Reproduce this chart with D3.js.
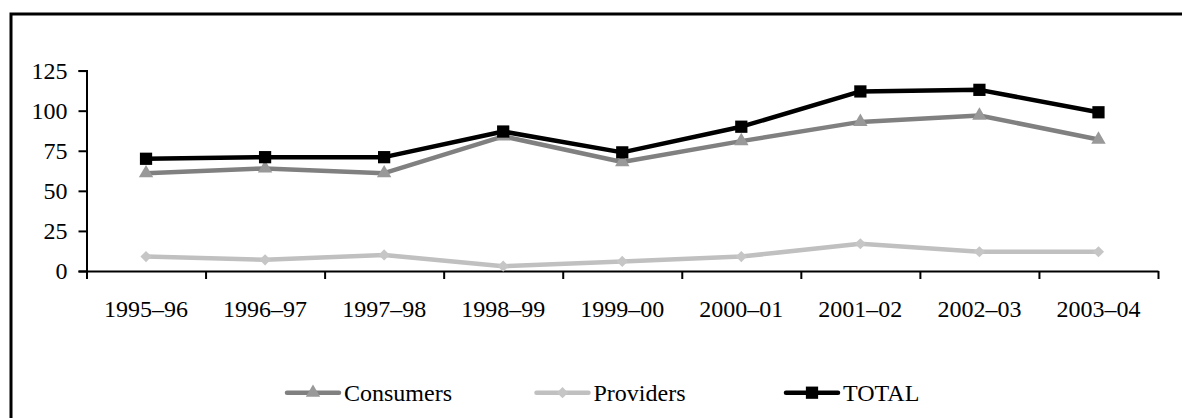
<!DOCTYPE html>
<html>
<head>
<meta charset="utf-8">
<script src="https://cdn.jsdelivr.net/npm/d3@7"></script>
<style>
  body { margin: 0; background: #fff; }
  text { font-family: "Liberation Serif", "DejaVu Serif", serif; font-size: 24px; fill: #000; }
</style>
</head>
<body>
<script>
// chart data
var years = ["1995–96", "1996–97", "1997–98", "1998–99", "1999–00",
             "2000–01", "2001–02", "2002–03", "2003–04"];
var consumers = [61, 64, 61, 84, 68, 81, 93, 97, 82];
var providers = [9, 7, 10, 3, 6, 9, 17, 12, 12];
var total = [70, 71, 71, 87, 74, 90, 112, 113, 99];
var yTicks = [0, 25, 50, 75, 100, 125];

draw();

function draw() {
  var width = 1182, height = 418;

  var svg = d3.select("body").append("svg")
      .attr("width", width)
      .attr("height", height);

  // frame (only top and left edges show in the picture)
  svg.append("path")
      .attr("d", "M11,418V14H1182")
      .attr("fill", "none")
      .attr("stroke", "#000")
      .attr("stroke-width", 3);

  var plot = {left: 86.5, right: 1158, top: 70.6, bottom: 271};

  var x = d3.scaleBand().domain(years).range([plot.left, plot.right]);
  var xi = d3.scaleLinear().domain([0, years.length]).range([plot.left, plot.right]);
  var y = d3.scaleLinear().domain([0, 125]).range([plot.bottom, plot.top]);

  // y axis
  var yAxis = svg.append("g")
      .attr("transform", "translate(" + plot.left + ",0)")
      .call(d3.axisLeft(y).tickValues(yTicks).tickSizeOuter(0).tickSize(8).tickPadding(11));
  yAxis.attr("font-size", null).attr("font-family", null);
  yAxis.selectAll("text").attr("dy", "0.33em");

  // x axis, ticks on the category boundaries
  svg.append("g")
      .attr("transform", "translate(0," + plot.bottom + ")")
      .call(d3.axisBottom(xi).tickValues(d3.range(years.length + 1))
        .tickFormat("").tickSize(8).tickSizeOuter(0));

  svg.selectAll(".domain, .tick line")
      .attr("stroke", "#000")
      .attr("stroke-width", 2);

  svg.append("g").selectAll("text")
      .data(years)
      .enter()
      .append("text")
      .attr("x", function(d) { return x(d) + x.bandwidth() / 2 })
      .attr("y", 317)
      .attr("text-anchor", "middle")
      .text(function(d) { return d });

  var series = [
    {name: "Consumers", values: consumers, line: "#808080", fill: "#999999",
     symbol: d3.symbolTriangle, size: 90},
    {name: "Providers", values: providers, line: "#c0c0c0", fill: "#c6c6c6",
     symbol: d3.symbolDiamond2, size: 80},
    {name: "TOTAL", values: total, line: "#000", fill: "#000",
     symbol: d3.symbolSquare, size: 150}
  ];

  var line = d3.line()
      .x(function(d, i) { return x(years[i]) + x.bandwidth() / 2 })
      .y(function(d) { return y(d) });

  series.forEach(function(s) {
    svg.append("path")
        .attr("d", line(s.values))
        .attr("fill", "none")
        .attr("stroke", s.line)
        .attr("stroke-width", 4.5)
        .attr("stroke-linejoin", "round");

    svg.append("g").selectAll("path")
        .data(s.values)
        .enter()
        .append("path")
        .attr("d", d3.symbol().type(s.symbol).size(s.size))
        .attr("fill", s.fill)
        .attr("transform", function(d, i) {
          return "translate(" + (x(years[i]) + x.bandwidth() / 2) + "," + y(d) + ")"
        });
  });

  // legend
  var legend = svg.append("g").selectAll("g")
      .data(series)
      .enter()
      .append("g")
      .attr("transform", function(d, i) { return "translate(" + (287 + i * 249.5) + ",392.7)" });

  legend.append("line")
      .attr("x1", 0).attr("x2", 52)
      .attr("stroke", function(d) { return d.line })
      .attr("stroke-width", 4.5)
      .attr("stroke-linecap", "round");

  legend.append("path")
      .attr("d", function(d) { return d3.symbol().type(d.symbol).size(d.size)() })
      .attr("fill", function(d) { return d.fill })
      .attr("transform", "translate(26,0)");

  legend.append("text")
      .attr("x", 57)
      .attr("y", 8.5)
      .text(function(d) { return d.name });
}
</script>
</body>
</html>
